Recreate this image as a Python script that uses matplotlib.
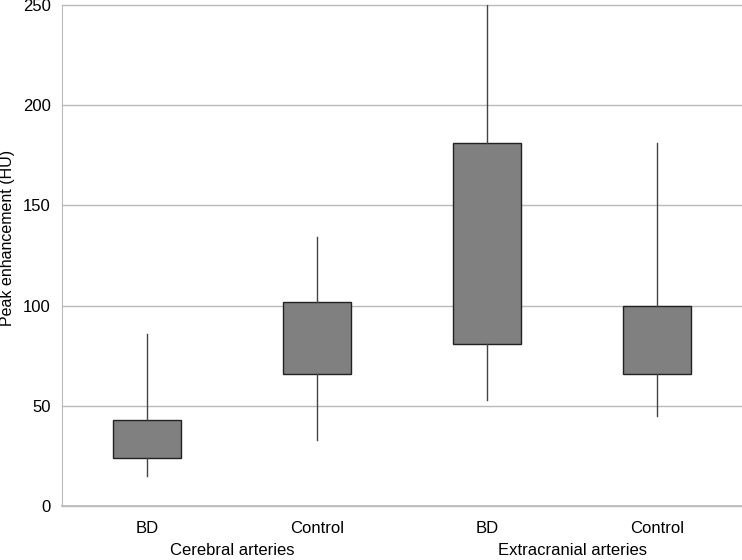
import matplotlib
matplotlib.use("Agg")
import matplotlib.pyplot as plt

plt.rcParams['font.family'] = ['Liberation Sans', 'DejaVu Sans']

categories = ["BD", "Control", "BD", "Control"]
groups = ["Cerebral arteries", "Extracranial arteries"]
whisker_low = [15, 33, 53, 45]
q1 = [24, 66, 81, 66]
q3 = [43, 102, 181, 100]
whisker_high = [86, 134, 250, 181]
yticks = [0, 50, 100, 150, 200, 250]

fig = plt.figure(figsize=(7.42, 5.60), dpi=100)
ax = fig.add_axes([62/742, 1-506/560, 1-62/742, 501/560])

stats = []
for i in range(len(categories)):
    stats.append(dict(whislo=whisker_low[i], q1=q1[i], med=q1[i], q3=q3[i],
                      whishi=whisker_high[i], fliers=[], label=categories[i]))

positions = list(range(len(categories)))
ax.bxp(stats, positions=positions, widths=0.4, showcaps=False, showfliers=False,
       patch_artist=True,
       boxprops=dict(facecolor='#808080', edgecolor='#222222', linewidth=1.0),
       whiskerprops=dict(color='#444444', linewidth=1.0),
       medianprops=dict(linewidth=0),
       zorder=3)

ax.set_xlim(-0.5, len(categories) - 0.5)
ax.set_ylim(0, 250)
ax.set_yticks(yticks)
ax.set_xticks(positions)
ax.set_xticklabels(categories)
ax.yaxis.grid(True, color='#bbbbbb', linewidth=1.0, zorder=0)
for gl in ax.get_ygridlines():
    gl.set_clip_on(False)
ax.axhline(0, color='#bbbbbb', linewidth=1.2, clip_on=False, zorder=0.5)
ax.set_axisbelow(True)
for s in ['top', 'right', 'bottom']:
    ax.spines[s].set_visible(False)
ax.spines['left'].set_color('#bbbbbb')
ax.tick_params(axis='both', length=0, labelsize=12, colors='black', pad=8)
ax.tick_params(axis='x', pad=10.5)

fig.text(7.5/742, 1 - 238/560, "Peak enhancement (HU)", rotation=90,
         ha='center', va='center', fontsize=11.5)

for gi, g in enumerate(groups):
    xc = (positions[2*gi] + positions[2*gi+1]) / 2
    ax.text(xc, -0.088, g, transform=ax.get_xaxis_transform(), ha='center',
            va='center', fontsize=12, clip_on=False)

fig.savefig("out.png", dpi=100)
